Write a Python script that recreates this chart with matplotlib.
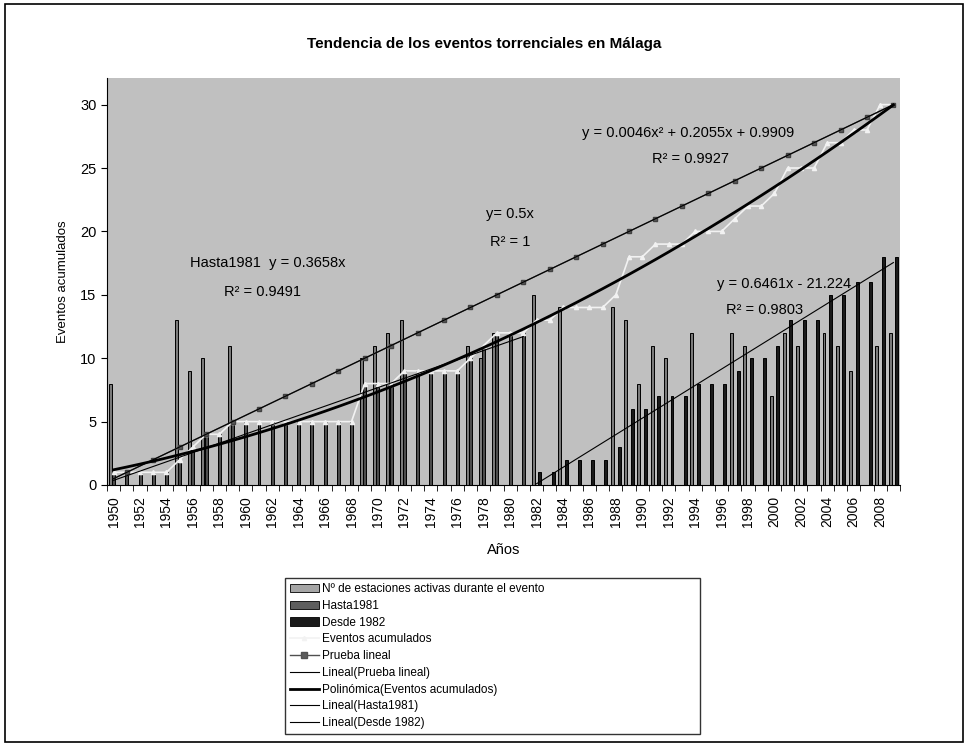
import numpy as np
import matplotlib
matplotlib.use("Agg")
import matplotlib.pyplot as plt
from matplotlib.patches import Rectangle, Patch
from matplotlib.lines import Line2D

plt.rcParams['font.family'] = ['Liberation Sans', 'DejaVu Sans']

# data
years = list(range(1950, 2010))

estaciones = [8, None, None, None, None, 13, 9, 10, None, 11,
              None, None, None, None, None, None, None, None, None, 10,
              11, 12, 13, None, None, None, None, 11, 10, 12,
              None, None, 15, None, 14, None, None, None, 14, 13,
              8, 11, 10, None, 12, None, None, 12, 11, None,
              7, 12, 11, None, 12, 11, 9, None, 11, 12]

# cumulative events up to 1981 (1950-1981)
hasta1981 = [1, 1, 1, 1, 1, 2, 3, 4, 4, 5,
             5, 5, 5, 5, 5, 5, 5, 5, 5, 8,
             8, 8, 9, 9, 9, 9, 9, 10, 11, 12,
             12, 12]

# cumulative events since 1982 (1982-2009)
desde1982 = [1, 1, 2, 2, 2, 2, 3, 6, 6, 7,
             7, 7, 8, 8, 8, 9, 10, 10, 11, 13,
             13, 13, 15, 15, 16, 16, 18, 18]

acumulados = [1, 1, 1, 1, 1, 2, 3, 4, 4, 5,
              5, 5, 5, 5, 5, 5, 5, 5, 5, 8,
              8, 8, 9, 9, 9, 9, 9, 10, 11, 12,
              12, 12, 13, 13, 14, 14, 14, 14, 15, 18,
              18, 19, 19, 19, 20, 20, 20, 21, 22, 22,
              23, 25, 25, 25, 27, 27, 28, 28, 30, 30]

prueba = [0.5, 1.0, 1.5, 2.0, 2.5, 3.0, 3.5, 4.0, 4.5, 5.0,
          5.5, 6.0, 6.5, 7.0, 7.5, 8.0, 8.5, 9.0, 9.5, 10.0,
          10.5, 11.0, 11.5, 12.0, 12.5, 13.0, 13.5, 14.0, 14.5, 15.0,
          15.5, 16.0, 16.5, 17.0, 17.5, 18.0, 18.5, 19.0, 19.5, 20.0,
          20.5, 21.0, 21.5, 22.0, 22.5, 23.0, 23.5, 24.0, 24.5, 25.0,
          25.5, 26.0, 26.5, 27.0, 27.5, 28.0, 28.5, 29.0, 29.5, 30.0]

idx = np.arange(len(years))
xn = idx + 1  # excel style x for trendlines

fig = plt.figure(figsize=(9.68, 7.46), dpi=100)
fig.patch.set_facecolor('white')
fig.patches.append(Rectangle((5/968, 4/746), 958/968, 738/746, transform=fig.transFigure,
                             fill=False, edgecolor='black', lw=1.2))

ax = fig.add_axes([107/968, (746-485)/746, (900-107)/968, (485-78)/746])
ax.set_facecolor('#c0c0c0')

w = 0.25
est_x = [i - w for i, v in zip(idx, estaciones) if v is not None]
est_v = [v for v in estaciones if v is not None]
ax.bar(est_x, est_v, width=w*0.9, color='#7a7a7a', edgecolor='black', lw=0.7, zorder=2)
ax.bar(idx[:len(hasta1981)], hasta1981, width=w*0.9, color='#4d4d4d', edgecolor='black', lw=0.7, zorder=2)
ax.bar(idx[len(hasta1981):] + w, desde1982, width=w*0.9, color='#1a1a1a', edgecolor='black', lw=0.7, zorder=2)

ax.plot(idx, acumulados, color='#f2f2f2', lw=1.2, marker='^', ms=3, mec='#f2f2f2', zorder=3)
ax.plot(idx, prueba, color='#505050', lw=1.0, marker='s', ms=3.5, mfc='#5a5a5a', mec='#404040',
        markevery=(1, 2), zorder=3)

# trendlines
c1 = np.polyfit(xn, prueba, 1)
ax.plot(idx, np.polyval(c1, xn), color='black', lw=0.8, zorder=4)
c2 = np.polyfit(xn, acumulados, 2)
ax.plot(idx, np.polyval(c2, xn), color='black', lw=2.0, zorder=4)
xh = xn[:len(hasta1981)]
kh = np.sum(xh * np.array(hasta1981)) / np.sum(xh * xh)
ax.plot(idx[:len(hasta1981)], kh * xh, color='black', lw=0.8, zorder=4)
xd = xn[len(hasta1981):]
c3 = np.polyfit(xd, desde1982, 1)
ax.plot(idx[len(hasta1981):], np.polyval(c3, xd), color='black', lw=0.8, zorder=4)

ax.set_xlim(-0.5, len(years) - 0.5)
ax.set_ylim(0, 32.1)
ax.set_yticks([0, 5, 10, 15, 20, 25, 30])
ax.set_xticks(idx[::2])
ax.set_xticklabels([str(y) for y in years[::2]], rotation=90, fontsize=10)
ax.set_xticks(np.arange(-0.5, len(years), 1), minor=True)
ax.tick_params(axis='x', which='major', length=0, pad=8)
ax.tick_params(axis='x', which='minor', length=4, direction='out')
ax.tick_params(axis='y', length=4, labelsize=10.5)
for s in ['top', 'right']:
    ax.spines[s].set_visible(False)

ax.set_ylabel('Eventos acumulados', fontsize=9.5, labelpad=8)
ax.set_xlabel('Años', fontsize=10.5, labelpad=11)
fig.text(0.5, 1 - 44/746, 'Tendencia de los eventos torrenciales en Málaga',
         ha='center', va='center', fontsize=11, fontweight='bold')

def ftext(x, y, s):
    fig.text(x/968, 1 - y/746, s, ha='center', va='center', fontsize=10.5)

ftext(688, 133, 'y = 0.0046x² + 0.2055x + 0.9909')
ftext(690, 159, 'R² = 0.9927')
ftext(510, 214, 'y= 0.5x')
ftext(510, 242, 'R² = 1')
ftext(268, 263, 'Hasta1981  y = 0.3658x')
ftext(262, 292, 'R² = 0.9491')
ftext(784, 284, 'y = 0.6461x - 21.224')
ftext(765, 310, 'R² = 0.9803')

handles = [
    Patch(facecolor='#a6a6a6', edgecolor='black', lw=0.6),
    Patch(facecolor='#5e5e5e', edgecolor='black', lw=0.6),
    Patch(facecolor='#1a1a1a', edgecolor='black', lw=0.6),
    Line2D([], [], color='#f2f2f2', lw=1.2, marker='^', ms=3),
    Line2D([], [], color='#505050', lw=1.0, marker='s', ms=4, mfc='#5a5a5a'),
    Line2D([], [], color='black', lw=0.8),
    Line2D([], [], color='black', lw=2.0),
    Line2D([], [], color='black', lw=0.8),
    Line2D([], [], color='black', lw=0.8),
]
labels = ['Nº de estaciones activas durante el evento', 'Hasta1981', 'Desde 1982',
          'Eventos acumulados', 'Prueba lineal', 'Lineal(Prueba lineal)',
          'Polinómica(Eventos acumulados)', 'Lineal(Hasta1981)', 'Lineal(Desde 1982)']
leg = fig.legend(handles, labels, loc='upper left',
                 bbox_to_anchor=(285/968, 1 - 578/746, 415/968, 0.0), mode='expand',
                 fontsize=8.5, frameon=True, fancybox=False, edgecolor='black',
                 labelspacing=0.4, handlelength=2.4, handletextpad=0.3,
                 borderpad=0.45, borderaxespad=0)
leg.get_frame().set_linewidth(1.0)

fig.savefig('out.png', dpi=100)
